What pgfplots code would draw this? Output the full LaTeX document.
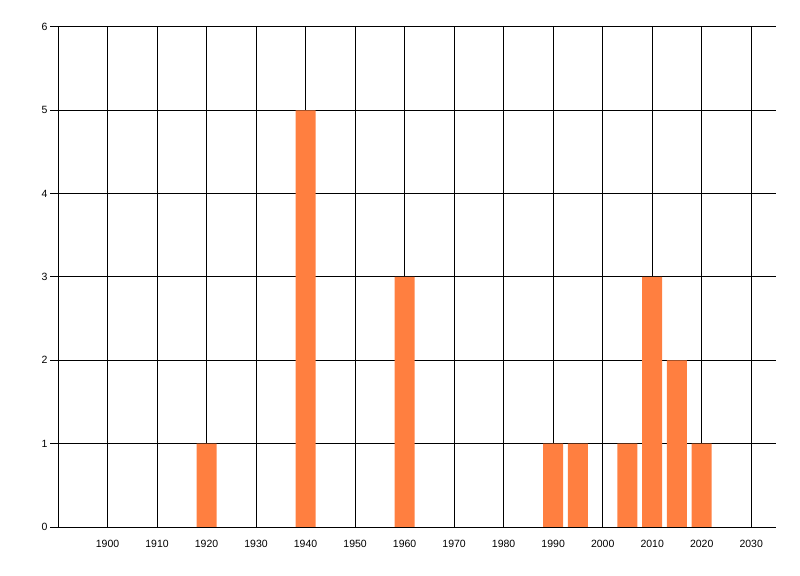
\documentclass[border=0pt]{standalone}
\usepackage{fontspec}
\setmainfont{Liberation Sans}
\usepackage{pgfplots}
\pgfplotsset{compat=1.18}
\definecolor{barorange}{RGB}{255,127,64}
\begin{document}
\begin{tikzpicture}
\begin{axis}[
  scale only axis, width=718bp, height=500bp,
  xmin=1890, xmax=2035, ymin=0, ymax=6,
  axis x line=bottom, axis y line=left,
  axis line style={-, black, line width=1bp},
  xtick={1900,1910,...,2030}, ytick={0,1,...,6},
  grid=major, grid style={black, line width=1bp},
  major tick length=8bp,
  x tick style={draw=none},
  y tick style={black, line width=1bp},
  tick align=outside,
  ticklabel style={font=\fontsize{10.5bp}{12bp}\selectfont},
  /pgf/number format/assume math mode=true,
  /pgf/number format/1000 sep={},
  xticklabel style={yshift=-2bp},
  yticklabel style={xshift=1bp},
  ybar, bar width=20bp, bar shift=0pt,
]
\addplot[draw=none, fill=barorange] coordinates {
  (1920,1) (1940,5) (1960,3) (1990,1) (1995,1)
  (2005,1) (2010,3) (2015,2) (2020,1)
};
\end{axis}
\pgfresetboundingbox
\path[use as bounding box] ([shift={(-58bp,-49bp)}]current axis.south west) rectangle ([shift={(24bp,27bp)}]current axis.north east);
\end{tikzpicture}
\end{document}
